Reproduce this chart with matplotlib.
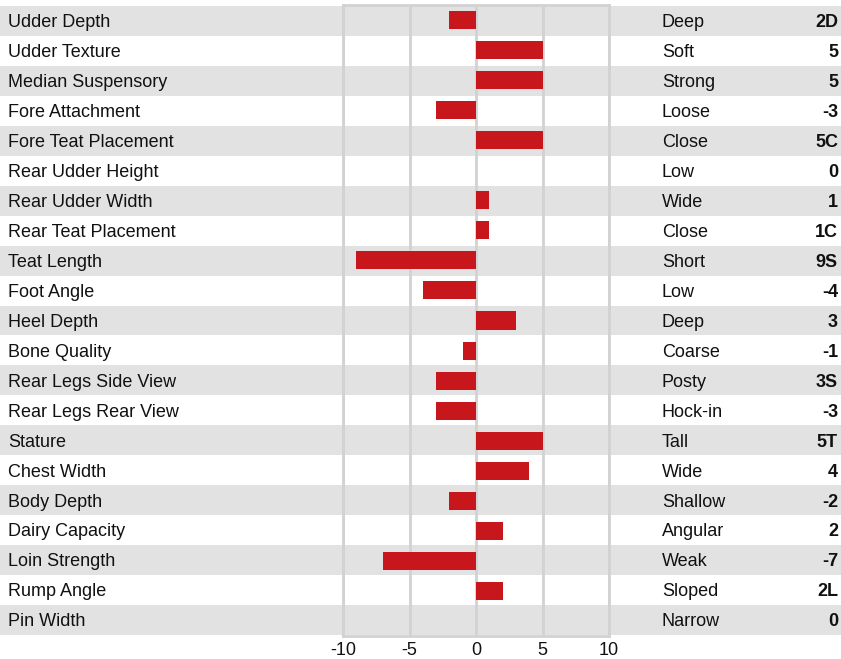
import matplotlib
matplotlib.use("Agg")
import matplotlib.pyplot as plt
import numpy as np

plt.rcParams['font.family'] = ['Liberation Sans', 'DejaVu Sans']
plt.rcParams['axes.unicode_minus'] = False

traits = ['Udder Depth', 'Udder Texture', 'Median Suspensory', 'Fore Attachment',
          'Fore Teat Placement', 'Rear Udder Height', 'Rear Udder Width',
          'Rear Teat Placement', 'Teat Length', 'Foot Angle', 'Heel Depth',
          'Bone Quality', 'Rear Legs Side View', 'Rear Legs Rear View', 'Stature',
          'Chest Width', 'Body Depth', 'Dairy Capacity', 'Loin Strength',
          'Rump Angle', 'Pin Width']
values = [-2, 5, 5, -3, 5, 0, 1, 1, -9, -4, 3, -1, -3, -3, 5, 4, -2, 2, -7, 2, 0]
descriptors = ['Deep', 'Soft', 'Strong', 'Loose', 'Close', 'Low', 'Wide', 'Close',
               'Short', 'Low', 'Deep', 'Coarse', 'Posty', 'Hock-in', 'Tall', 'Wide',
               'Shallow', 'Angular', 'Weak', 'Sloped', 'Narrow']
scores = ['2D', '5', '5', '-3', '5C', '0', '1', '1C', '9S', '-4', '3', '-1', '3S',
          '-3', '5T', '4', '-2', '2', '-7', '2L', '0']

W, H = 841, 659
fig = plt.figure(figsize=(W / 100, H / 100), dpi=100)

n = len(traits)
top, bottom = 6, 635
y = np.arange(n)
fs = 13

# background bands across the whole width
bg = fig.add_axes([0, 1 - bottom / H, 1, (bottom - top) / H])
bg.set_xlim(0, W)
bg.set_ylim(n - 0.5, -0.5)
for i in range(0, n, 2):
    bg.axhspan(i - 0.5, i + 0.5, color='#e2e2e2', lw=0)
for i, t in enumerate(traits):
    yy = i + 0.06
    bg.text(8, yy, t, va='center', ha='left', fontsize=fs, color='#111111')
    bg.text(662, yy, descriptors[i], va='center', ha='left', fontsize=fs, color='#111111')
    bg.text(838, yy, scores[i], va='center', ha='right', fontsize=fs,
            fontweight='bold', color='#111111')
bg.axis('off')

ax = fig.add_axes([343 / W, 1 - 636 / H, (609 - 343) / W, (636 - 5) / H])
ax.patch.set_alpha(0)
ax.barh(y, values, height=0.6, color='#c8161d', zorder=3)
ax.set_xlim(-10, 10)
ax.set_ylim(n - 0.5, -0.5)
ax.set_yticks([])
ax.set_xticks([-10, -5, 0, 5, 10])
ax.tick_params(axis='x', length=0, labelsize=fs, pad=4, colors='#111111')
ax.grid(axis='x', color='#d2d2d2', lw=2, zorder=1)
ax.set_axisbelow(True)
for s in ax.spines.values():
    s.set_color('#d2d2d2')
    s.set_linewidth(2)

fig.savefig('out.png', dpi=100)
